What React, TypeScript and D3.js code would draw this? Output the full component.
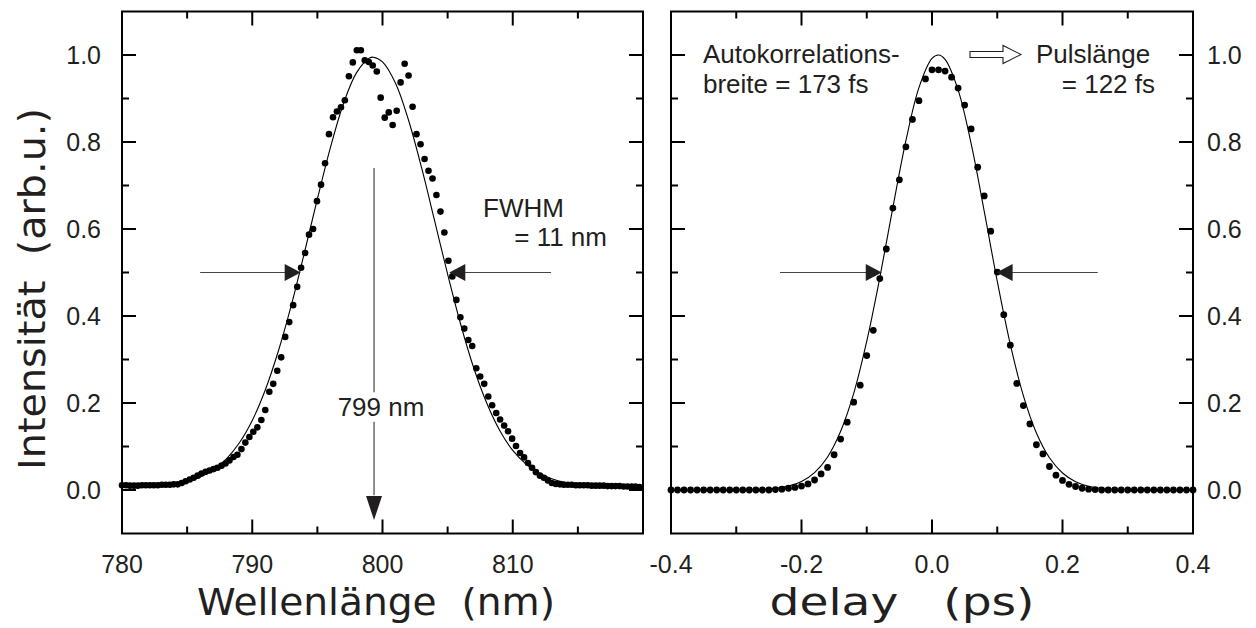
import React from 'react';
import * as d3 from 'd3';

// spectrum (left panel)
const wavelength = [
  780.00, 780.31, 780.61, 780.92, 781.22, 781.53, 781.83, 782.14, 782.44, 782.75,
  783.06, 783.36, 783.67, 783.97, 784.28, 784.58, 784.89, 785.20, 785.50, 785.81,
  786.11, 786.42, 786.72, 787.03, 787.33, 787.64, 787.95, 788.25, 788.56, 788.86,
  789.17, 789.47, 789.78, 790.08, 790.39, 790.70, 791.00, 791.31, 791.61, 791.92,
  792.22, 792.53, 792.84, 793.14, 793.45, 793.75, 794.06, 794.36, 794.67, 794.97,
  795.28, 795.59, 795.89, 796.20, 796.50, 796.81, 797.11, 797.42, 797.72, 798.03,
  798.34, 798.64, 798.95, 799.25, 799.56, 799.86, 800.17, 800.48, 800.78, 801.09,
  801.39, 801.70, 802.00, 802.31, 802.61, 802.92, 803.23, 803.53, 803.84, 804.14,
  804.45, 804.75, 805.06, 805.36, 805.67, 805.98, 806.28, 806.59, 806.89, 807.20,
  807.50, 807.81, 808.12, 808.42, 808.73, 809.03, 809.34, 809.64, 809.95, 810.25,
  810.56, 810.87, 811.17, 811.48, 811.78, 812.09, 812.39, 812.70, 813.00, 813.31,
  813.62, 813.92, 814.23, 814.53, 814.84, 815.14, 815.45, 815.76, 816.06, 816.37,
  816.67, 816.98, 817.28, 817.59, 817.89, 818.20, 818.51, 818.81, 819.12, 819.42,
  819.73,
];
const spectrum = [
  0.011, 0.011, 0.010, 0.010, 0.010, 0.011, 0.011, 0.011, 0.011, 0.011,
  0.012, 0.012, 0.012, 0.013, 0.013, 0.016, 0.020, 0.024, 0.028, 0.033,
  0.038, 0.042, 0.045, 0.048, 0.051, 0.056, 0.061, 0.068, 0.076, 0.081,
  0.094, 0.109, 0.122, 0.134, 0.144, 0.161, 0.184, 0.226, 0.244, 0.274,
  0.305, 0.352, 0.386, 0.425, 0.467, 0.511, 0.545, 0.587, 0.600, 0.664,
  0.702, 0.751, 0.818, 0.857, 0.870, 0.880, 0.896, 0.951, 0.983, 1.011,
  1.011, 0.988, 0.984, 0.976, 0.962, 0.902, 0.856, 0.868, 0.839, 0.872,
  0.937, 0.980, 0.953, 0.881, 0.818, 0.795, 0.761, 0.734, 0.716, 0.678,
  0.640, 0.592, 0.527, 0.491, 0.437, 0.397, 0.371, 0.345, 0.331, 0.280,
  0.261, 0.244, 0.215, 0.195, 0.177, 0.162, 0.148, 0.135, 0.118, 0.101,
  0.085, 0.075, 0.062, 0.051, 0.041, 0.033, 0.028, 0.022, 0.016, 0.014,
  0.013, 0.012, 0.012, 0.012, 0.011, 0.011, 0.011, 0.011, 0.010, 0.010,
  0.010, 0.010, 0.009, 0.009, 0.009, 0.009, 0.008, 0.008, 0.008, 0.008,
  0.007,
];
// gaussian fit line
const spectrumFitX = [780, 782, 784, 785, 786, 787, 788, 789, 790, 791, 792, 793, 794, 795, 796, 797, 798, 799, 799.3,
  800, 801, 802, 803, 804, 805, 806, 807, 808, 809, 810, 811, 812, 813, 814, 815, 816, 818, 820];
const spectrumFitY = [0.009, 0.011, 0.015, 0.021, 0.030, 0.046, 0.071, 0.108, 0.160, 0.230, 0.319, 0.425, 0.545, 0.669,
  0.787, 0.888, 0.959, 0.993, 0.995, 0.984, 0.935, 0.850, 0.741, 0.619, 0.496, 0.381, 0.281, 0.200, 0.137, 0.091,
  0.060, 0.039, 0.026, 0.018, 0.014, 0.011, 0.010, 0.009];

// autocorrelation (right panel)
const delay = [
  -0.40, -0.39, -0.38, -0.37, -0.36, -0.35, -0.34, -0.33, -0.32, -0.31,
  -0.30, -0.29, -0.28, -0.27, -0.26, -0.25, -0.24, -0.23, -0.22, -0.21,
  -0.20, -0.19, -0.18, -0.17, -0.16, -0.15, -0.14, -0.13, -0.12, -0.11,
  -0.10, -0.09, -0.08, -0.07, -0.06, -0.05, -0.04, -0.03, -0.02, -0.01,
  0.00, 0.01, 0.02, 0.03, 0.04, 0.05, 0.06, 0.07, 0.08, 0.09,
  0.10, 0.11, 0.12, 0.13, 0.14, 0.15, 0.16, 0.17, 0.18, 0.19,
  0.20, 0.21, 0.22, 0.23, 0.24, 0.25, 0.26, 0.27, 0.28, 0.29,
  0.30, 0.31, 0.32, 0.33, 0.34, 0.35, 0.36, 0.37, 0.38, 0.39,
  0.40,
];
const autocorrelation = [
  0, 0, 0, 0, 0, 0, 0, 0, 0, 0,
  0, 0, 0, 0, 0, 0, 0.001, 0.002, 0.004, 0.006,
  0.009, 0.014, 0.023, 0.037, 0.052, 0.081, 0.117, 0.156, 0.202, 0.241,
  0.309, 0.367, 0.486, 0.554, 0.648, 0.713, 0.789, 0.852, 0.895, 0.945,
  0.966, 0.966, 0.963, 0.949, 0.924, 0.885, 0.830, 0.742, 0.676, 0.595,
  0.501, 0.403, 0.333, 0.245, 0.194, 0.152, 0.104, 0.083, 0.054, 0.034,
  0.022, 0.013, 0.008, 0.004, 0.002, 0.001, 0, 0, 0, 0,
  0, 0, 0, 0, 0, 0, 0, 0, 0, 0,
  0,
];
const autocorrFitX = [-0.40, -0.30, -0.26, -0.24, -0.22, -0.20, -0.18, -0.16, -0.14, -0.12, -0.10, -0.08, -0.06,
  -0.04, -0.02, 0.00, 0.01, 0.02, 0.04, 0.06, 0.08, 0.10, 0.12, 0.14, 0.16, 0.18, 0.20, 0.22, 0.24, 0.26, 0.30, 0.40];
const autocorrFitY = [0, 0.0002, 0.0015, 0.0038, 0.0089, 0.0196, 0.040, 0.076, 0.135, 0.222, 0.342, 0.488, 0.649,
  0.803, 0.925, 0.992, 1.000, 0.990, 0.920, 0.796, 0.641, 0.480, 0.335, 0.217, 0.131, 0.074, 0.039, 0.019, 0.0086,
  0.0036, 0.0005, 0];

const intensityTicks = [0, 0.2, 0.4, 0.6, 0.8, 1.0];
const intensityMinor = [0.1, 0.3, 0.5, 0.7, 0.9];
const wavelengthTicks = [780, 790, 800, 810, 820];
const wavelengthLabels = [780, 790, 800, 810];
const wavelengthMinor = [785, 795, 805, 815];
const delayTicks = [-0.4, -0.2, 0, 0.2, 0.4];
const delayMinor = [-0.3, -0.1, 0.1, 0.3];

const W = 1256;
const H = 628;
const top = 11.5;
const bottom = 533.5;
const MAJ = 14;
const MIN = 7;
const ink = '#231f20';
const tickFont = "'Liberation Sans', Arial, sans-serif";
const titleFont = "'DejaVu Sans', Verdana, sans-serif";
const sp = '\u00A0';

const y = d3.scaleLinear().domain([-0.1, 1.1]).range([bottom, top]);
const xL = d3.scaleLinear().domain([780, 820]).range([122, 643]);
const xR = d3.scaleLinear().domain([-0.4, 0.4]).range([671, 1193]);
// plain hyphen for negatives, like the original
const fmt = (v: number) => d3.format('.1f')(v).replace('\u2212', '-');

function Frame({ x, major, minor }: { x: d3.ScaleLinear<number, number>; major: number[]; minor: number[] }) {
  const [x0, x1] = x.range();
  const vt: JSX.Element[] = [];
  major.forEach((t, i) => {
    vt.push(<line key={'bM' + i} x1={x(t)} x2={x(t)} y1={bottom} y2={bottom - MAJ} />);
    vt.push(<line key={'tM' + i} x1={x(t)} x2={x(t)} y1={top} y2={top + MAJ} />);
  });
  minor.forEach((t, i) => {
    vt.push(<line key={'bm' + i} x1={x(t)} x2={x(t)} y1={bottom} y2={bottom - MIN} />);
    vt.push(<line key={'tm' + i} x1={x(t)} x2={x(t)} y1={top} y2={top + MIN} />);
  });
  intensityTicks.forEach((t, i) => {
    vt.push(<line key={'lM' + i} x1={x0} x2={x0 + MAJ} y1={y(t)} y2={y(t)} />);
    vt.push(<line key={'rM' + i} x1={x1} x2={x1 - MAJ} y1={y(t)} y2={y(t)} />);
  });
  intensityMinor.forEach((t, i) => {
    vt.push(<line key={'lm' + i} x1={x0} x2={x0 + MIN} y1={y(t)} y2={y(t)} />);
    vt.push(<line key={'rm' + i} x1={x1} x2={x1 - MIN} y1={y(t)} y2={y(t)} />);
  });
  return (
    <g stroke="#000" strokeWidth={2} fill="none">
      <rect x={x0} y={top} width={x1 - x0} height={bottom - top} />
      {vt}
    </g>
  );
}

function Arrow({ tipX, tipY, dir, len = 16, half = 8.5 }: { tipX: number; tipY: number; dir: 'left' | 'right' | 'down'; len?: number; half?: number }) {
  let pts = '';
  if (dir === 'right') pts = `${tipX - len},${tipY - half} ${tipX},${tipY} ${tipX - len},${tipY + half}`;
  if (dir === 'left') pts = `${tipX + len},${tipY - half} ${tipX},${tipY} ${tipX + len},${tipY + half}`;
  if (dir === 'down') pts = `${tipX - half},${tipY - len} ${tipX},${tipY} ${tipX + half},${tipY - len}`;
  return <polygon points={pts} fill={ink} />;
}

export default function App() {
  const fitLeft = d3.line<number>()
    .x((d, i) => xL(spectrumFitX[i]))
    .y(d => y(d))
    .curve(d3.curveCatmullRom.alpha(0.5));
  const fitRight = d3.line<number>()
    .x((d, i) => xR(autocorrFitX[i]))
    .y(d => y(d))
    .curve(d3.curveCatmullRom.alpha(0.5));

  const half = y(0.5);
  const peakX = xL(799.35);

  return (
    <svg width={W} height={H} style={{ position: 'absolute', left: 0, top: 0, background: '#fff' }}>
      <Frame x={xL} major={wavelengthTicks} minor={wavelengthMinor} />
      <Frame x={xR} major={delayTicks} minor={delayMinor} />

      {/* tick labels */}
      <g fontFamily={tickFont} fontSize={25} fill={ink}>
        {intensityTicks.map(t => (
          <text key={'l' + t} x={101} y={y(t)} dy="0.36em" textAnchor="end">{fmt(t)}</text>
        ))}
        {intensityTicks.map(t => (
          <text key={'r' + t} x={1207} y={y(t)} dy="0.36em" textAnchor="start">{fmt(t)}</text>
        ))}
        {wavelengthLabels.map(t => (
          <text key={'w' + t} x={xL(t)} y={573} textAnchor="middle">{t}</text>
        ))}
        {delayTicks.map(t => (
          <text key={'d' + t} x={xR(t)} y={573} textAnchor="middle">{fmt(t)}</text>
        ))}
      </g>

      {/* axis titles */}
      <g fontFamily={titleFont} fontSize={38} fill={ink}>
        <text transform="translate(45,289) rotate(-90)" textAnchor="middle" textLength={362} lengthAdjust="spacingAndGlyphs">{`Intensität${sp}${sp}(arb.u.)`}</text>
        <text x={376} y={615} textAnchor="middle" textLength={358} lengthAdjust="spacingAndGlyphs">{`Wellenlänge${sp}${sp}(nm)`}</text>
        <text x={902} y={615} textAnchor="middle" textLength={265} lengthAdjust="spacingAndGlyphs">{`delay${sp}${sp}${sp}(ps)`}</text>
      </g>

      {/* fits */}
      <path d={fitLeft(spectrumFitY) || ''} fill="none" stroke="#000" strokeWidth={1.1} />
      <path d={fitRight(autocorrFitY) || ''} fill="none" stroke="#000" strokeWidth={1.1} />

      {/* data */}
      <g fill="#000">
        {spectrum.map((v, i) => (
          <circle key={'s' + i} cx={xL(wavelength[i])} cy={y(v)} r={3.3} />
        ))}
        {autocorrelation.map((v, i) => (
          <circle key={'a' + i} cx={xR(delay[i])} cy={y(v)} r={3.4} />
        ))}
      </g>

      {/* annotations */}
      <g stroke="#444" strokeWidth={1.2}>
        <line x1={xL(786)} x2={xL(793.72) - 15} y1={half} y2={half} />
        <line x1={xL(805.13) + 15} x2={xL(812.94)} y1={half} y2={half} />
        <line x1={peakX} x2={peakX} y1={y(0.74)} y2={y(0.225)} />
        <line x1={peakX} x2={peakX} y1={y(0.157)} y2={y(-0.012)} />
        <line x1={xR(-0.233)} x2={xR(-0.077) - 15} y1={half} y2={half} />
        <line x1={xR(0.099) + 15} x2={xR(0.254)} y1={half} y2={half} />
      </g>
      <Arrow tipX={xL(793.72)} tipY={half} dir="right" />
      <Arrow tipX={xL(805.13)} tipY={half} dir="left" />
      <Arrow tipX={peakX} tipY={y(-0.069)} dir="down" len={24} half={8} />
      <Arrow tipX={xR(-0.077)} tipY={half} dir="right" />
      <Arrow tipX={xR(0.099)} tipY={half} dir="left" />

      <g fontFamily={tickFont} fontSize={26} fill={ink}>
        <text x={381} y={416} textAnchor="middle">799 nm</text>
        <text x={483} y={217}>FWHM</text>
        <text x={607} y={246} textAnchor="end">= 11 nm</text>
        <text x={703} y={63}>Autokorrelations-</text>
        <text x={703} y={93}>breite = 173 fs</text>
        <text x={1036} y={63}>Pulslänge</text>
        <text x={1155} y={93} textAnchor="end">= 122 fs</text>
      </g>
      <path d="M970,51.5 L1003,51.5 L1003,45.5 L1021,54.5 L1003,63.5 L1003,57.5 L970,57.5 Z"
        fill="#fff" stroke={ink} strokeWidth={1.1} />
    </svg>
  );
}
